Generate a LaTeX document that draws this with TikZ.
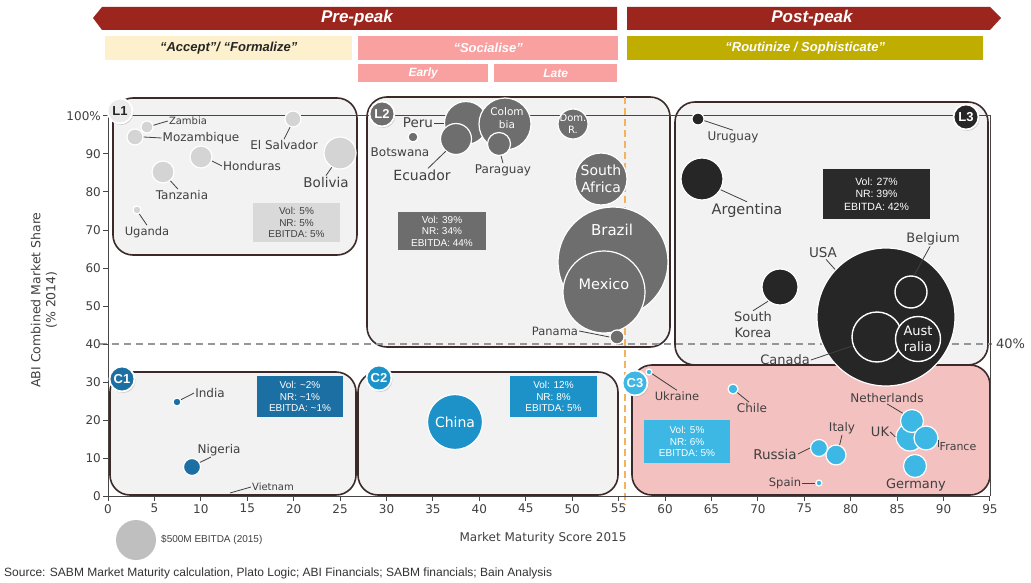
\documentclass[tikz,border=0pt]{standalone}
\usepackage{fontspec}
\setmainfont{DejaVu Sans}
\newfontfamily\arialf{Liberation Sans}
\usetikzlibrary{shadows}
\newcommand\fs[2]{\fontsize{#1}{#2}\selectfont}
\definecolor{banred}{RGB}{156,38,30}
\definecolor{accY}{RGB}{253,240,204}
\definecolor{socP}{RGB}{249,160,160}
\definecolor{rouO}{RGB}{191,174,0}
\definecolor{regfill}{RGB}{242,242,242}
\definecolor{regline}{RGB}{60,42,42}
\definecolor{cthreefill}{RGB}{243,193,191}
\definecolor{lonec}{RGB}{212,212,212}
\definecolor{ltwoc}{RGB}{110,110,110}
\definecolor{lthreec}{RGB}{38,38,38}
\definecolor{conec}{RGB}{28,111,163}
\definecolor{ctwoc}{RGB}{28,146,201}
\definecolor{cthreec}{RGB}{61,183,228}
\definecolor{labc}{RGB}{64,64,64}
\definecolor{axisc}{RGB}{70,70,70}
\definecolor{orng}{RGB}{242,178,94}
\definecolor{dashg}{RGB}{150,150,150}
\definecolor{lonebox}{RGB}{217,217,217}
\definecolor{ltwobox}{RGB}{109,109,109}
\definecolor{lthreebox}{RGB}{42,42,42}
\definecolor{legc}{RGB}{191,191,191}
\begin{document}
\begin{tikzpicture}[x=1pt,y=-1pt,
  region/.style={draw=regline, line width=1.6pt, rounded corners=20pt, fill=regfill},
  bub/.style={circle, draw=white, line width=1.2pt, inner sep=0pt},
  ring/.style={circle, draw=white, line width=1.4pt, inner sep=0pt, fill=lthreec},
  lbl/.style={text=labc, inner sep=1pt, font=\fs{#1}{#1}},
  wtxt/.style={text=white, inner sep=0pt, align=center, font=\fs{#1}{#1}},
  leader/.style={draw=labc, line width=0.8pt},
  infobox/.style={inner sep=0pt, align=center, font=\arialf\fs{10}{11.5}},
  badge/.style={circle, draw=white, line width=1.8pt, minimum size=25pt, inner sep=0pt,
     font=\arialf\bfseries\fs{13}{13}, drop shadow={opacity=0.35, shadow xshift=1pt, shadow yshift=-1.5pt}},
  phase/.style={anchor=north west, inner sep=0pt, font=\arialf\bfseries\itshape\fs{13}{13}},
  bantext/.style={text=white, font=\arialf\bfseries\itshape\fs{17}{17}},
  tick/.style={text=labc, font=\fs{12}{12}, inner sep=1pt},
  axisline/.style={draw=axisc, line width=1pt}]
\useasboundingbox (0,0) rectangle (1031,583);
\fill[white] (0,0) rectangle (1031,583);

% ---- banners
\fill[banred] (93,18) -- (102,7) -- (617,7) -- (617,30) -- (102,30) -- cycle;
\node[bantext] (pre) at (357,18.5) {Pre-peak};
\fill[banred] (627,7) -- (990,7) -- (1001,18) -- (990,30) -- (627,30) -- cycle;
\node[bantext] (post) at (812,18.5) {Post-peak};
\node[phase, fill=accY, minimum width=247pt, minimum height=24pt, text=black!85] (acc) at (105,36) {“Accept”/ “Formalize”};
\node[phase, fill=socP, minimum width=260pt, minimum height=24pt, text=white] (soc) at (358,36) {“Socialise”};
\node[phase, fill=socP, minimum width=130pt, minimum height=18pt, text=white, font=\arialf\bfseries\itshape\fs{12}{12}] (early) at (358,64) {Early};
\node[phase, fill=socP, minimum width=123pt, minimum height=18pt, text=white, font=\arialf\bfseries\itshape\fs{12}{12}] (late) at (494,64) {Late};
\node[phase, fill=rouO, minimum width=356pt, minimum height=24pt, text=white] (rou) at (627,36) {“Routinize / Sophisticate”};

% ---- region boxes
\draw[region] (113,98) rectangle (357,255);
\draw[region] (367,97) rectangle (670,347);
\draw[region] (675,102) rectangle (988,365);
\draw[region] (110,372) rectangle (356,495);
\draw[region] (358,372) rectangle (618,495);
\draw[region, fill=cthreefill] (632,365) rectangle (990,495);

% ---- guide lines
\draw[dashg, line width=1.2pt, dash pattern=on 7pt off 5pt] (100,344) -- (992,344);
\node[text=labc, font=\fs{13}{13}, anchor=west, inner sep=0pt] (forty) at (996,344) {40\%};
\draw[orng, line width=1.6pt, dash pattern=on 7pt off 4pt] (625,97) -- (625,505);

% ---- axes and frame
\draw[axisline] (108,116) -- (108,496) -- (990,496);
\draw[axisline] (108,116) -- (990,116) -- (990,496);
\foreach \v in {0,5,...,95} {
  \draw[axisline] ({108+9.284*\v},496) -- ({108+9.284*\v},501);
  \node[tick, anchor=north] (xt\v) at ({108+9.284*\v},503) {\v};
}
\foreach \v in {0,10,...,90} {
  \draw[axisline] (103,{496-3.8*\v}) -- (108,{496-3.8*\v});
  \node[tick, anchor=east] (yt\v) at (102,{496-3.8*\v}) {\v};
}
\draw[axisline] (103,116) -- (108,116);
\node[tick, anchor=east] (yt100) at (102,116) {100\%};
\node[text=labc, rotate=90, align=center, font=\fs{12.5}{15}] (ytitle) at (44,300) {ABI Combined Market Share\\(\% 2014)};
\node[text=labc, font=\fs{12}{12}] (xtitle) at (543,538) {Market Maturity Score 2015};

% ---- legend and source
\node[circle, fill=legc, minimum size=40pt, inner sep=0pt] (leg) at (136,540) {};
\node[text=labc, anchor=west, inner sep=0pt, font=\arialf\fs{10}{10}] (legl) at (161,540) {\$500M EBITDA (2015)};
\node[text=labc!80!black, anchor=west, inner sep=0pt, font=\arialf\fs{12}{12}] (src) at (4,573) {Source: SABM Market Maturity calculation, Plato Logic; ABI Financials; SABM financials; Bain Analysis};

% ---- info boxes
\node[infobox, fill=lonebox, text=labc, minimum width=87pt, minimum height=39pt] (ione) at (296.5,222.5) {Vol: 5\%\\NR: 5\%\\EBITDA: 5\%};
\node[infobox, fill=ltwobox, text=white, minimum width=88pt, minimum height=38pt] (itwo) at (442,231) {Vol: 39\%\\NR: 34\%\\EBITDA: 44\%};
\node[infobox, fill=lthreebox, text=white, minimum width=107pt, minimum height=50pt, font=\arialf\fs{10.5}{12.5}] (ithree) at (876.5,194) {Vol: 27\%\\NR: 39\%\\EBITDA: 42\%};
\node[infobox, fill=conec, text=white, minimum width=86pt, minimum height=41pt] (icone) at (300,396.5) {Vol: \textasciitilde2\%\\NR: \textasciitilde1\%\\EBITDA: \textasciitilde1\%};
\node[infobox, fill=ctwoc, text=white, minimum width=87pt, minimum height=41pt] (ictwo) at (553.5,396.5) {Vol: 12\%\\NR: 8\%\\EBITDA: 5\%};
\node[infobox, fill=cthreec, text=white, minimum width=86pt, minimum height=43pt] (icthree) at (687,441.5) {Vol: 5\%\\NR: 6\%\\EBITDA: 5\%};

% ---- L1 bubbles
\node[bub, fill=lonec, minimum size=12pt] (zam) at (147,127) {};
\node[bub, fill=lonec, minimum size=16pt] (moz) at (135,137) {};
\node[bub, fill=lonec, minimum size=16pt] (els) at (293,119) {};
\node[bub, fill=lonec, minimum size=22pt] (hon) at (201,157) {};
\node[bub, fill=lonec, minimum size=32pt] (bol) at (340,153) {};
\node[bub, fill=lonec, minimum size=22pt] (tan) at (163,172) {};
\node[bub, fill=lonec, minimum size=8pt] (uga) at (137,210) {};
\node[lbl=10] (zaml) at (188,121) {Zambia};
\node[lbl=12] (mozl) at (201,138) {Mozambique};
\node[lbl=12] (elsl) at (284,145) {El Salvador};
\node[lbl=12] (honl) at (252,166) {Honduras};
\node[lbl=13.5] (boll) at (326,182) {Bolivia};
\node[lbl=12] (tanl) at (182,195) {Tanzania};
\node[lbl=11.5] (ugal) at (147,232) {Uganda};
\draw[leader] (zam.15) -- (zaml.west);
\draw[leader] (moz.east) -- (mozl.west);
\draw[leader] (els.250) -- (elsl.north);
\draw[leader] (hon.-20) -- (honl.west);
\draw[leader] (bol.240) -- (boll.north);
\draw[leader] (tan.-50) -- ([xshift=-4pt]tanl.north);
\draw[leader] (uga.-60) -- (ugal.north);

% ---- L2 bubbles
\node[bub, fill=ltwoc, minimum size=43pt] (peru) at (466,123) {};
\node[bub, fill=ltwoc, minimum size=52pt] (col) at (505,124) {};
\node[bub, fill=ltwoc, minimum size=31pt] (ecu) at (456,139) {};
\node[bub, fill=ltwoc, minimum size=23pt] (par) at (499,144) {};
\node[bub, fill=ltwoc, minimum size=10pt] (bot) at (413,137) {};
\node[bub, fill=ltwoc, minimum size=30pt] (dom) at (573,124) {};
\node[bub, fill=ltwoc, minimum size=52pt] (saf) at (601,179) {};
\node[bub, fill=ltwoc, minimum size=110pt] (bra) at (613,262) {};
\node[bub, fill=ltwoc, minimum size=82pt] (mex) at (604,292) {};
\node[bub, fill=ltwoc, minimum size=14pt] (pan) at (617,337) {};
\node[wtxt=10.5, font=\fs{10.5}{12.5}] (coll) at (507,118) {Colom\\bia};
\node[wtxt=10, font=\fs{10}{11.5}] (doml) at (573,124) {Dom.\\R.};
\node[wtxt=14, font=\fs{14}{16.5}] (safl) at (601,179) {South\\Africa};
\node[wtxt=15] (bral) at (612,230) {Brazil};
\node[wtxt=14.5] (mexl) at (604,284) {Mexico};
\node[lbl=13.5] (perul) at (418,123) {Peru};
\node[lbl=12] (botl) at (400,152) {Botswana};
\node[lbl=14] (ecul) at (422,175) {Ecuador};
\node[lbl=12] (parl) at (503,170) {Paraguay};
\node[lbl=11.5] (panl) at (555,331) {Panama};
\draw[leader] (perul.east) -- (peru.west);
\draw[leader] (ecu.230) -- ([xshift=6pt]ecul.north);
\draw[leader] (par.-80) -- (parl.north);
\draw[leader] (panl.east) -- (pan.west);

% ---- C3 bubbles
\node[bub, fill=cthreec, minimum size=6pt] (ukr) at (649,372) {};
\node[bub, fill=cthreec, minimum size=10pt] (chl) at (733,389) {};
\node[bub, fill=cthreec, minimum size=28pt] (uk) at (910,437) {};
\node[bub, fill=cthreec, minimum size=23pt] (ned) at (912,421) {};
\node[bub, fill=cthreec, minimum size=24pt] (fra) at (926,438) {};
\node[bub, fill=cthreec, minimum size=23pt] (ger) at (915,466) {};
\node[bub, fill=cthreec, minimum size=20pt] (ita) at (836,455) {};
\node[bub, fill=cthreec, minimum size=17pt] (rus) at (819,448) {};
\node[bub, fill=cthreec, minimum size=6pt] (spa) at (819,483) {};
\node[lbl=11.5] (ukrl) at (677,396) {Ukraine};
\node[lbl=12] (chll) at (752,408) {Chile};
\node[lbl=12] (nedl) at (887,398) {Netherlands};
\node[lbl=13] (ukl) at (880,432) {UK};
\node[lbl=11] (fral) at (958,447) {France};
\node[lbl=12] (ital) at (842,428) {Italy};
\node[lbl=13.5] (rusl) at (775,454) {Russia};
\node[lbl=11.5] (spal) at (785,483) {Spain};
\node[lbl=13] (gerl) at (916,485) {Germany};
\draw[leader] (ukr.-30) -- (ukrl.north);
\draw[leader] (chl.-40) -- ([xshift=-3pt]chll.north);
\draw[leader] (nedl.south) -- (ned.140);
\draw[leader] (ukl.east) -- (uk.west);
\draw[leader] (fra.-10) -- (fral.west);
\draw[leader] (ital.south) -- (ita.70);
\draw[leader] (rusl.east) -- (rus.west);
\draw[leader] (spal.east) -- (spa.west);

% ---- L3 bubbles
\node[bub, fill=lthreec, minimum size=12pt] (uru) at (698,119) {};
\node[bub, fill=lthreec, minimum size=42pt] (arg) at (702,179) {};
\node[bub, fill=lthreec, minimum size=36pt] (sko) at (780,287) {};
\node[bub, fill=lthreec, minimum size=138pt] (usa) at (886,317) {};
\node[ring, minimum size=32pt] (bel) at (911,292) {};
\node[ring, minimum size=50pt] (can) at (877,337) {};
\node[ring, minimum size=45pt] (aus) at (918,339) {};
\node[wtxt=13, font=\fs{13}{15.5}] (ausl) at (918,339) {Aust\\ralia};
\node[lbl=12] (urul) at (733,137) {Uruguay};
\node[lbl=14.5] (argl) at (747,210) {Argentina};
\node[lbl=13, align=center, font=\fs{13}{16}] (skol) at (753,325) {South\\Korea};
\node[lbl=13.5] (usal) at (823,253) {USA};
\node[lbl=13] (bell) at (933,239) {Belgium};
\node[lbl=13] (canl) at (785,360) {Canada};
\draw[leader] (uru.-15) -- (urul.north);
\draw[leader] (arg.-30) -- (argl.north);
\draw[leader] (sko.230) -- (skol.north);
\draw[leader] ([xshift=3pt]usal.south) -- (usa.137);
\draw[leader] ([xshift=-3pt]bell.south) -- (bel.80);
\draw[leader] (canl.east) -- (can.200);

% ---- C1 / C2 bubbles
\node[bub, fill=conec, minimum size=8pt] (ind) at (177,402) {};
\node[bub, fill=conec, minimum size=17pt] (nig) at (192,467) {};
\node[lbl=12] (indl) at (210,393) {India};
\node[lbl=12] (nigl) at (219,450) {Nigeria};
\node[lbl=10] (vietl) at (273,487) {Vietnam};
\coordinate (vietc) at (230,493);
\draw[leader] (ind.30) -- (indl.west);
\draw[leader] (nig.30) -- ([xshift=-8pt]nigl.south);
\draw[leader] (vietc) -- (vietl.west);
\node[bub, fill=ctwoc, minimum size=55pt] (chi) at (455,422) {};
\node[wtxt=14] (chil) at (455,422) {China};

% ---- badges
\node[badge, fill=black!8, text=black!85] (bLone) at (120,111) {L1};
\node[badge, fill=ltwoc, text=white] (bLtwo) at (382,114) {L2};
\node[badge, fill=lthreec, text=white] (bLthree) at (966,117) {L3};
\node[badge, fill=conec, text=white] (bCone) at (122,379) {C1};
\node[badge, fill=ctwoc, text=white] (bCtwo) at (379,378) {C2};
\node[badge, fill=cthreec, text=white] (bCthree) at (635,383) {C3};
\end{tikzpicture}
\end{document}
